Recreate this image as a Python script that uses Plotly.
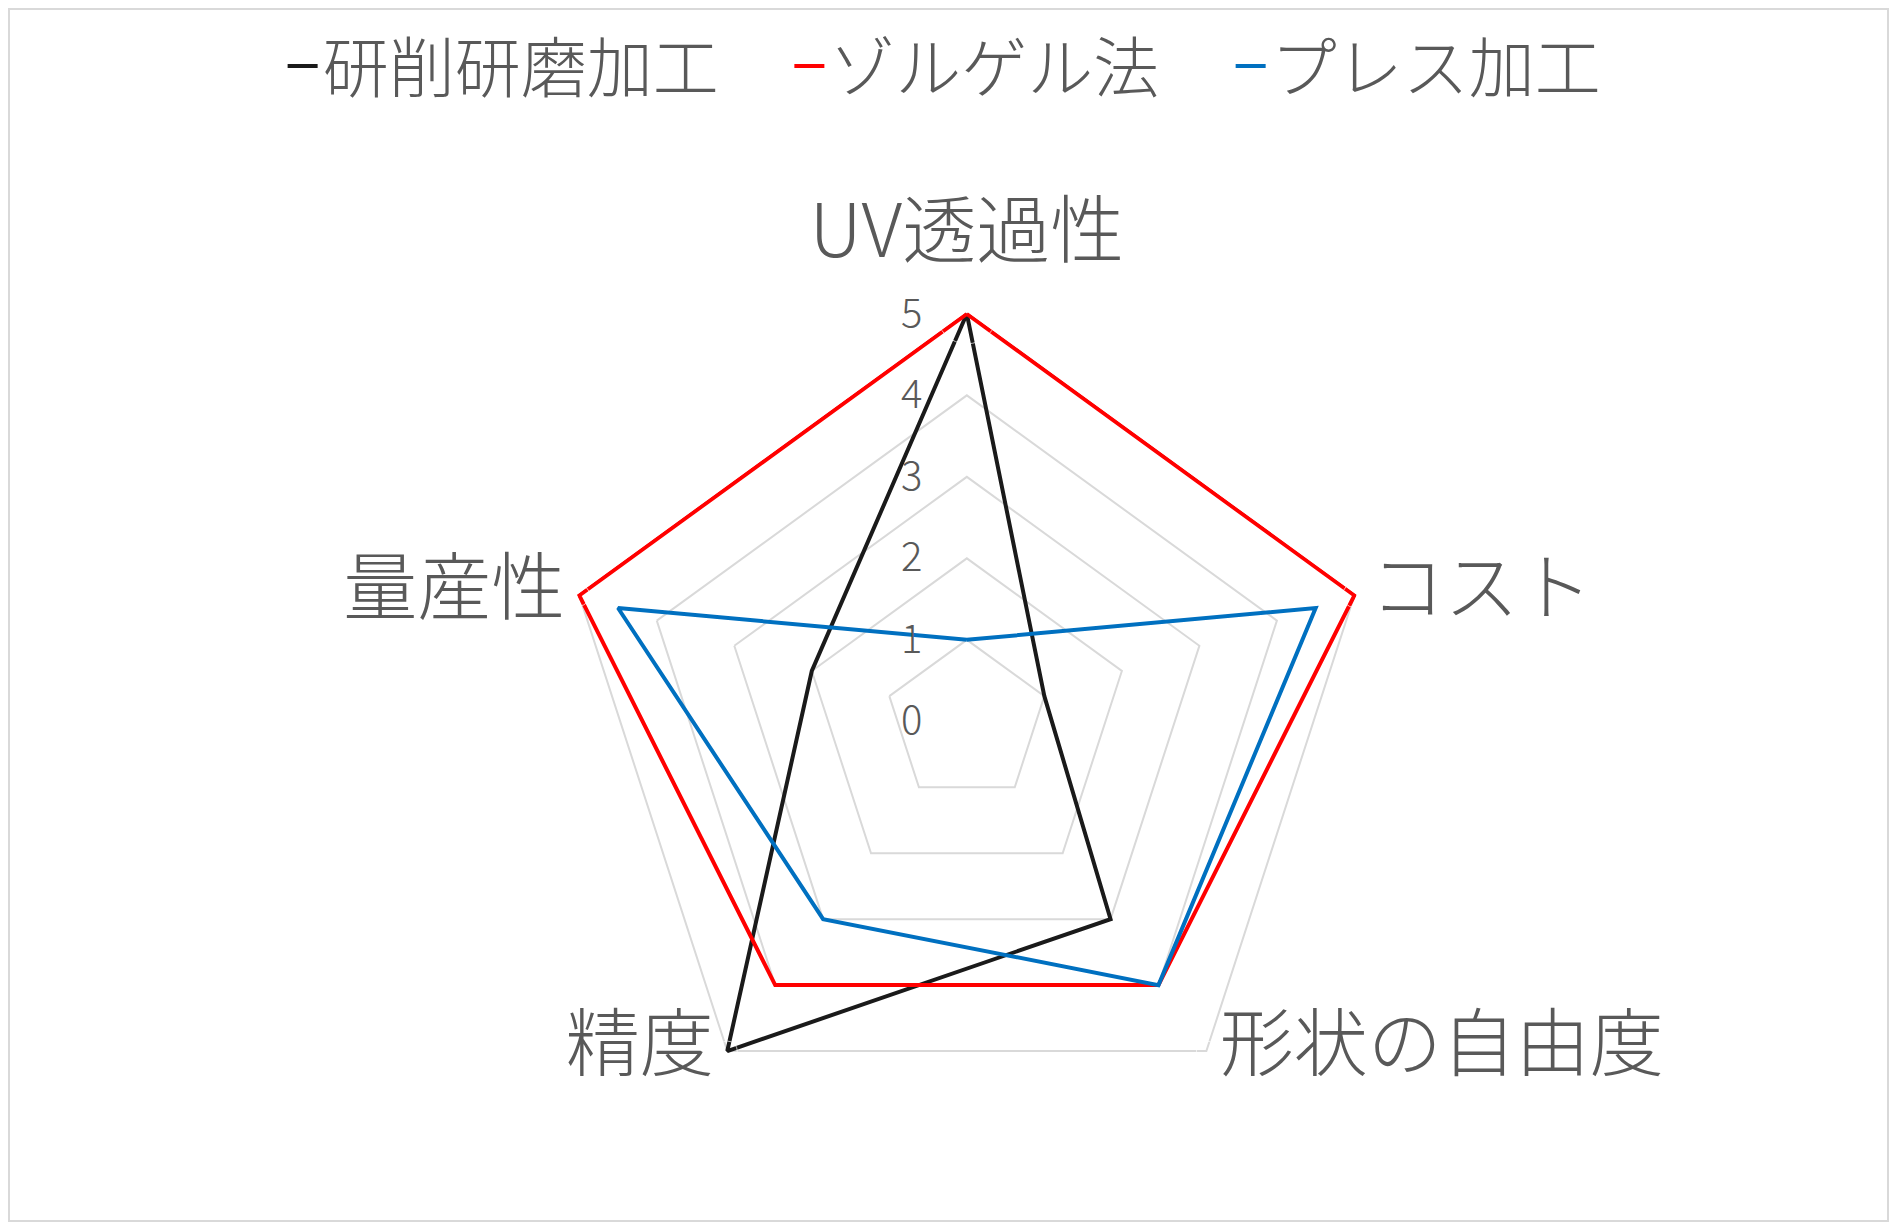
import plotly.graph_objects as go

categories = ['UV透過性', 'コスト', '形状の自由度', '精度', '量産性']

series_names = ['研削研磨加工', 'ゾルゲル法', 'プレス加工']
grinding = [5, 1, 3, 5, 2]
sol_gel = [5, 5, 4, 4, 5]
press = [1, 4.5, 4, 3, 4.5]

colors = ['#1a1a1a', '#ff0000', '#0070c0']
radial_ticks = [0, 1, 2, 3, 4, 5]
r_max = 5

FONT = 'Noto Sans CJK JP'
TEXT = '#595959'
GRID = '#d9d9d9'

# one legend per series so that each entry can sit where Excel put it
legend_ids = ['legend', 'legend2', 'legend3']
legend_x = [0.146, 0.4154, 0.650]

fig = go.Figure()

for name, vals, col, lg in zip(series_names, [grinding, sol_gel, press], colors, legend_ids):
    # close the polygon by repeating the first point
    fig.add_trace(go.Scatterpolar(
        r=vals + vals[:1],
        theta=categories + categories[:1],
        mode='lines',
        name=name,
        legend=lg,
        line=dict(color=col, width=4),
        cliponaxis=False,
    ))

# category labels beside the outer vertices (invisible markers set the gap)
label_pos = ['top center', 'middle right', 'middle right', 'middle left', 'middle left']
label_gap = [60, 24, 20, 20, 21]
fig.add_trace(go.Scatterpolar(
    r=[r_max] * len(categories),
    theta=categories,
    mode='markers+text',
    text=categories,
    textposition=label_pos,
    marker=dict(size=label_gap, color='rgba(0,0,0,0)'),
    textfont=dict(size=74, family=FONT, color=TEXT, weight=300),
    cliponaxis=False,
    showlegend=False,
    hoverinfo='skip',
))

legend_style = dict(
    orientation='h',
    xanchor='left',
    y=0.993, yanchor='top',
    font=dict(size=66, family=FONT, color=TEXT, weight=300),
    bgcolor='rgba(0,0,0,0)',
)

fig.update_layout(
    template='simple_white',
    paper_bgcolor='white',
    margin=dict(l=0, r=0, t=0, b=0),
    font=dict(family=FONT, color=TEXT, weight=300),
    showlegend=True,
    legend=dict(legend_style, x=legend_x[0]),
    legend2=dict(legend_style, x=legend_x[1]),
    legend3=dict(legend_style, x=legend_x[2]),
    polar=dict(
        domain=dict(x=[0.2907, 0.7288], y=[0.0747, 0.7501]),
        gridshape='linear',
        bgcolor='white',
        angularaxis=dict(
            direction='clockwise',
            rotation=90,
            showgrid=False,
            showline=False,
            ticks='',
            showticklabels=False,
        ),
        radialaxis=dict(
            # a hair above 5 so the outer series lines are not clipped in half
            range=[0, r_max * 1.006],
            tickvals=radial_ticks,
            angle=90,
            tickangle=90,
            side='counterclockwise',
            showline=False,
            showgrid=True,
            gridcolor=GRID,
            gridwidth=1.5,
            ticks='outside',
            ticklen=30,
            tickcolor='rgba(0,0,0,0)',
            tickfont=dict(size=40, family=FONT, color=TEXT, weight=300),
        ),
    ),
    shapes=[dict(
        type='rect', xref='paper', yref='paper',
        x0=0, y0=0, x1=1, y1=1,
        fillcolor='rgba(0,0,0,0)', opacity=1, layer='below',
        line=dict(color=GRID, width=4),
    )],
)

fig.write_html("out.html")
